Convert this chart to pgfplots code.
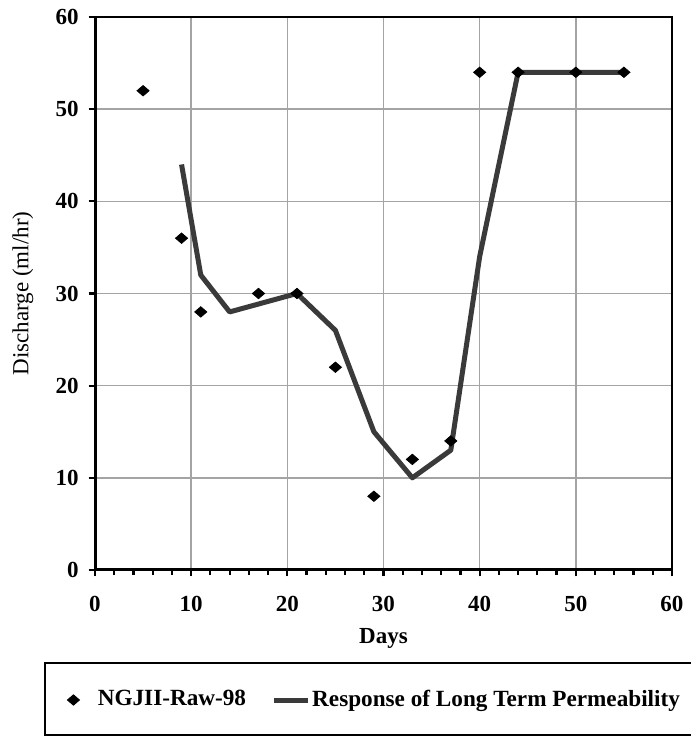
\documentclass[border=0pt]{standalone}
\usepackage{pgfplots}
\pgfplotsset{compat=1.18}
\usepackage{fontspec}
\setmainfont{Liberation Serif}

\definecolor{respline}{HTML}{3A3A3A}
\definecolor{gridgray}{HTML}{A4A4A4}

% legend sample: one mark at the left of a wider cell
\pgfplotsset{diamond legend/.style={
  legend image code/.code={%
    \path (0pt,0pt) (11pt,0pt);
    \draw[mark repeat=2, mark phase=1, ##1] plot coordinates {(0pt,0pt) (11pt,0pt)};}}}

\begin{document}
\fontsize{11.5}{13.5}\selectfont
\begin{tikzpicture}
\begin{axis}[
  name=ax,
  scale only axis,
  width=288.5pt, height=276.5pt,
  xmin=0, xmax=60, ymin=0, ymax=60,
  xtick={0,10,...,60}, ytick={0,10,...,60},
  minor x tick num=4,
  tick align=outside,
  xtick pos=bottom, ytick pos=left,
  major tick length=3.2pt, minor tick length=2.4pt,
  every tick/.style={black, line width=1.1pt},
  xmajorgrids, ymajorgrids,
  major grid style={gridgray, line width=0.75pt},
  axis line style={black, line width=1pt},
  /pgf/number format/assume math mode=true,
  ticklabel style={font=\fontsize{11.5}{13.5}\selectfont\bfseries},
  xticklabel style={yshift=-6pt},
  yticklabel style={xshift=-1pt},
  xlabel={\bfseries Days},
  ylabel={Discharge (ml/hr)},
  xlabel style={at={(rel axis cs:0.5,0)}, anchor=center, yshift=-34pt},
  ylabel style={at={(rel axis cs:0,0.5)}, anchor=center, yshift=36pt},
  legend columns=4,
  legend style={at={(rel axis cs:0,0)}, anchor=west, xshift=-14pt, yshift=-65pt,
    draw=none, fill=none, inner sep=0pt,
    font=\fontsize{11.6}{13.5}\selectfont\bfseries,
    nodes={inner xsep=1pt},
    /tikz/every even column/.append style={column sep=11.5pt}},
]
% measured discharge
\addplot[only marks, mark=diamond*, mark size=2.6pt, mark options={xscale=1.55, fill=black, draw=black},
  diamond legend]
  coordinates {(5,52) (9,36) (11,28) (17,30) (21,30) (25,22) (29,8) (33,12) (37,14) (40,54) (44,54) (50,54) (55,54)};
\addlegendentry{NGJII-Raw-98}
% model response
\addplot[respline, line width=2.5pt, line join=round, mark=none]
  coordinates {(9,44) (11,32) (14,28) (21,30) (25,26) (29,15) (33,10) (37,13) (40,34) (44,54) (50,54) (55,54)};
\addlegendentry{Response of Long Term Permeability}
% heavier left and bottom axis lines
\draw[black, line width=2pt] (rel axis cs:0,1) -- (rel axis cs:0,0) -- (rel axis cs:1,0);
\end{axis}
% legend frame
\draw[black, line width=1.2pt] ([shift={(-25pt,-46.5pt)}]ax.south west) rectangle ++(400pt,-36pt);
\pgfresetboundingbox
\path ([shift={(-47.5pt,-84pt)}]ax.south west) rectangle ([shift={(9.5pt,8.5pt)}]ax.north east);
\end{tikzpicture}
\end{document}
